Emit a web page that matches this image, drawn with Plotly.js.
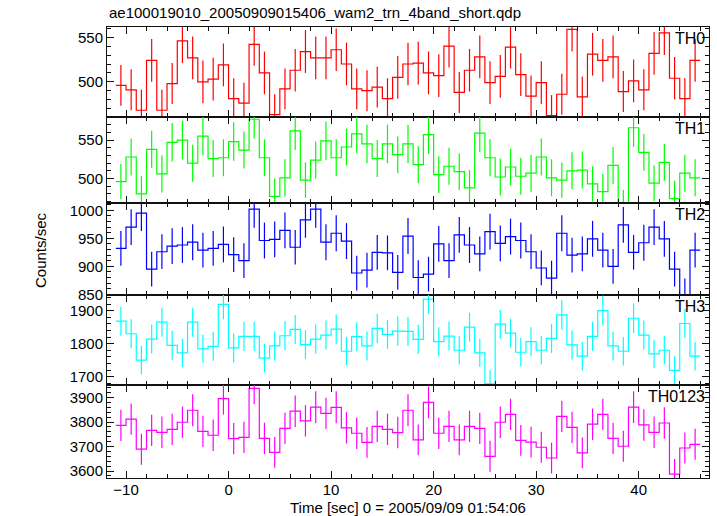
<!DOCTYPE html>
<html><head><meta charset="utf-8">
<script src="https://cdn.plot.ly/plotly-3.0.1.min.js"></script>
<style>body{margin:0;background:#fff}#chart{width:717px;height:516px}</style>
</head><body><div id="chart"></div>
<script>
const time = [-10.5,-9.5,-8.5,-7.5,-6.5,-5.5,-4.5,-3.5,-2.5,-1.5,-0.5,0.5,1.5,2.5,3.5,4.5,5.5,6.5,7.5,8.5,9.5,10.5,11.5,12.5,13.5,14.5,15.5,16.5,17.5,18.5,19.5,20.5,21.5,22.5,23.5,24.5,25.5,26.5,27.5,28.5,29.5,30.5,31.5,32.5,33.5,34.5,35.5,36.5,37.5,38.5,39.5,40.5,41.5,42.5,43.5,44.5,45.5];
const th0 = [496,491,468,524,468,498,546,527,500,503,519,481,476,542,510,463,492,513,534,527,527,536,520,492,490,494,481,505,520,521,510,507,540,488,513,528,499,506,539,508,484,499,462,486,559,483,531,524,528,489,501,491,532,555,504,481,524];
const th0Err = [23,23,23,24,23,23,25,24,24,24,24,23,23,24,24,23,23,24,24,24,24,24,24,23,23,23,23,24,24,24,24,24,24,23,24,24,24,24,24,24,23,24,23,23,25,23,24,24,24,23,24,23,24,25,24,23,24];
const th1 = [496,528,480,538,506,547,550,520,555,526,527,548,537,577,527,477,501,562,498,524,549,527,541,558,545,526,545,531,545,518,557,505,516,509,488,559,527,502,515,503,507,528,501,498,510,511,493,483,517,462,566,534,494,521,474,507,501];
const th1Err = [23,24,23,24,24,25,25,24,25,24,24,25,24,25,24,23,24,25,23,24,25,24,24,25,25,24,25,24,25,24,25,24,24,24,23,25,24,24,24,24,24,24,24,23,24,24,23,23,24,23,25,24,23,24,23,24,24];
const th2 = [932,970,995,895,926,936,938,943,929,932,939,921,910,1002,946,948,964,934,983,1002,943,959,945,888,893,925,924,889,954,880,886,940,910,956,938,922,962,941,953,946,926,897,879,959,920,922,949,929,900,974,925,942,970,949,895,848,929];
const th2Err = [31,32,32,31,31,32,32,32,31,31,32,31,31,33,32,32,32,31,32,33,32,32,32,31,31,31,31,31,32,31,31,32,31,32,32,31,32,32,32,32,31,31,31,32,31,31,32,31,31,32,31,32,32,32,31,30,31];
const th3 = [1868,1830,1750,1814,1865,1795,1772,1865,1784,1792,1919,1787,1822,1822,1756,1793,1824,1843,1797,1814,1826,1844,1777,1821,1793,1846,1828,1838,1837,1813,1935,1806,1823,1780,1850,1772,1678,1859,1832,1774,1806,1780,1816,1887,1796,1762,1822,1900,1793,1777,1877,1826,1769,1780,1719,1861,1762];
const th3Err = [44,44,43,44,44,44,43,44,43,44,45,44,44,44,43,44,44,44,44,44,44,44,43,44,44,44,44,44,44,44,45,44,44,43,44,43,42,44,44,43,44,43,44,45,44,43,44,45,44,43,45,44,43,43,43,44,43];
const th0123 = [3786,3812,3689,3766,3758,3770,3799,3848,3762,3746,3895,3732,3737,3937,3733,3676,3774,3844,3805,3861,3835,3860,3776,3754,3717,3782,3770,3757,3848,3727,3880,3754,3782,3727,3782,3774,3660,3799,3831,3725,3718,3697,3653,3823,3778,3674,3791,3831,3733,3701,3861,3788,3758,3796,3587,3694,3709];
const th0123Err = [64,64,63,64,64,64,64,65,64,64,65,64,64,65,64,63,64,64,64,65,64,65,64,64,63,64,64,64,65,63,65,64,64,63,64,64,63,64,64,63,63,63,63,64,64,63,64,64,64,63,65,64,64,64,62,63,63];
const bandNames = ["TH0","TH1","TH2","TH3","TH0123"];
const colors = ["#ff0000","#00ff00","#0000ff","#00ffff","#ff00ff"];
const yRanges = [[460.4,561.6],[468.3,579.9],[848.8,1013],[1674.7,1947.5],[3571.5,3951]];
const yMajor = [50,50,50,100,100];
const yMinor = [10,10,10,20,20];
const domains = [[0.8004,1],[0.6098,0.8004],[0.4058,0.6098],[0.2062,0.4058],[0,0.2062]];
const xRange = [-11.855,46.855];

const series = [th0,th1,th2,th3,th0123];
const errs = [th0Err,th1Err,th2Err,th3Err,th0123Err];
const edges = time.map(t=>t-0.5).concat([time[time.length-1]+0.5]);

const traces = [];
const fontF = 'Liberation Sans, Arial, sans-serif';
const layout = {
  width:717, height:516,
  margin:{l:107,r:8,t:27,b:38},
  paper_bgcolor:'#fff', plot_bgcolor:'#fff',
  showlegend:false,
  font:{family:fontF, size:15, color:'#000'},
  annotations:[]
};
series.forEach((s,k)=>{
  const n = k+1;
  const xa = n===1?'x':'x'+n, ya = n===1?'y':'y'+n;
  const stepY = s.concat([s[s.length-1]]);
  traces.push({x:edges, y:stepY, xaxis:xa, yaxis:ya, type:'scatter', mode:'lines',
    line:{shape:'hv', color:colors[k], width:1.2}, hoverinfo:'skip'});
  traces.push({x:time, y:s, xaxis:xa, yaxis:ya, type:'scatter', mode:'markers',
    marker:{size:0.1, color:colors[k], opacity:0},
    error_y:{type:'data', array:errs[k], visible:true, width:0, thickness:1.2, color:colors[k]},
    hoverinfo:'skip'});
  const xk = n===1?'xaxis':'xaxis'+n, yk = n===1?'yaxis':'yaxis'+n;
  layout[xk] = {range:xRange, anchor:ya, showgrid:false, zeroline:false,
    showline:true, linecolor:'#111', linewidth:1, mirror:'allticks',
    ticks:'inside', ticklen:7, tickwidth:1, tickcolor:'#111', dtick:10, tick0:0,
    minor:{dtick:2, ticks:'inside', ticklen:4, tickwidth:1, tickcolor:'#111'},
    showticklabels: n===5, ticklabelstandoff:-2, tickfont:{family:fontF,size:15,color:'#000'}, fixedrange:true};
  if(n>1) layout[xk].matches='x';
  layout[yk] = {range:yRanges[k], domain:domains[k], anchor:xa, showgrid:false, zeroline:false,
    showline:true, linecolor:'#111', linewidth:1, mirror:'allticks',
    ticks:'inside', ticklen:7, tickwidth:1, tickcolor:'#111', dtick:yMajor[k], tick0:0,
    minor:{dtick:yMinor[k], ticks:'inside', ticklen:4, tickwidth:1, tickcolor:'#111'},
    tickfont:{family:fontF,size:15,color:'#000'}, fixedrange:true};
  layout.annotations.push({text:bandNames[k], xref:'paper', x:1, xanchor:'right', xshift:-2,
    yref:ya+' domain', y:1, yanchor:'top', yshift:-1, showarrow:false,
    font:{family:fontF,size:16,color:'#000'}});
});
layout.annotations.push({text:'ae100019010_20050909015406_wam2_trn_4band_short.qdp', xref:'paper', x:0, xanchor:'left',
  yref:'paper', y:(478-12)/451, yanchor:'middle', showarrow:false, font:{family:fontF,size:15,color:'#000'}});
layout.annotations.push({text:'Counts/sec', xref:'paper', x:(40-107)/602, xanchor:'center',
  yref:'paper', y:(478-250)/451, yanchor:'middle', textangle:-90, showarrow:false, font:{family:fontF,size:15,color:'#000'}});
layout.annotations.push({text:'Time [sec] 0 = 2005/09/09 01:54:06', xref:'paper', x:0.5, xanchor:'center',
  yref:'paper', y:(478-508)/451, yanchor:'middle', showarrow:false, font:{family:fontF,size:15,color:'#000'}});
Plotly.newPlot('chart', traces, layout, {displayModeBar:false, staticPlot:true});
</script></body></html>
